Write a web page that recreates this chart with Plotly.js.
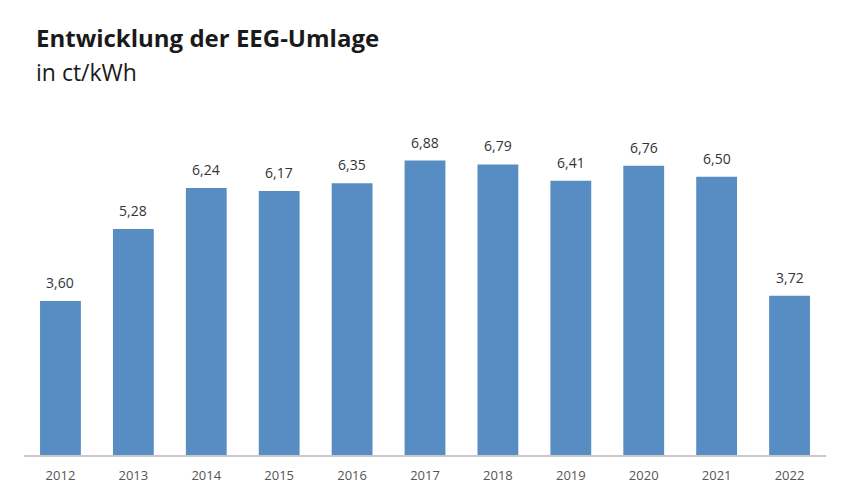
<!DOCTYPE html>
<html>
<head>
<meta charset="utf-8">
<script src="https://cdn.plot.ly/plotly-3.0.1.min.js"></script>
<style>html,body{margin:0;padding:0;background:#fff;}#chart{width:850px;height:500px;}</style>
</head>
<body>
<div id="chart"></div>
<script>
const years = ['2012','2013','2014','2015','2016','2017','2018','2019','2020','2021','2022'];
const umlage = [3.60, 5.28, 6.24, 6.17, 6.35, 6.88, 6.79, 6.41, 6.76, 6.50, 3.72];
const titleText = 'Entwicklung der EEG-Umlage';
const subtitleText = 'in ct/kWh';

const fmt = v => v.toFixed(2).replace('.', ',');

const trace = {
  type: 'bar',
  x: years,
  y: umlage,
  marker: {color: '#578DC3'},
  cliponaxis: false,
  hoverinfo: 'skip'
};

const valueLabels = years.map((yr, i) => ({
  text: fmt(umlage[i]), x: i, y: umlage[i], xref: 'x', yref: 'y',
  xanchor: 'center', yanchor: 'bottom', yshift: 7, showarrow: false,
  font: {family: 'Open Sans, sans-serif', size: 14, color: '#333333'}
}));

const layout = {
  width: 850, height: 500,
  margin: {l: 24, r: 24, t: 134, b: 45},
  paper_bgcolor: '#ffffff', plot_bgcolor: '#ffffff',
  bargap: 0.44,
  showlegend: false,
  font: {family: 'Open Sans, sans-serif'},
  xaxis: {
    type: 'category',
    range: [-0.5, years.length - 0.5],
    showgrid: false, zeroline: false,
    showline: true, linecolor: '#c8c8c8', linewidth: 1.5,
    ticks: '',
    tickfont: {family: 'Open Sans, sans-serif', size: 13, color: '#555555'},
    ticklabelstandoff: 8
  },
  yaxis: {range: [0, 7.5], visible: false, fixedrange: true},
  annotations: [
    {text: '<b>' + titleText + '</b>', xref: 'paper', yref: 'paper', x: (34-24)/802, y: (455-38)/321,
     xanchor: 'left', yanchor: 'middle', showarrow: false,
     font: {family: 'Open Sans, sans-serif', size: 24, color: '#1a1a1a'}},
    {text: subtitleText, xref: 'paper', yref: 'paper', x: (34-24)/802, y: (455-72)/321,
     xanchor: 'left', yanchor: 'middle', showarrow: false,
     font: {family: 'Open Sans, sans-serif', size: 23, color: '#1a1a1a'}}
  ].concat(valueLabels)
};

Plotly.newPlot('chart', [trace], layout, {displayModeBar: false, staticPlot: true});
</script>
</body>
</html>
